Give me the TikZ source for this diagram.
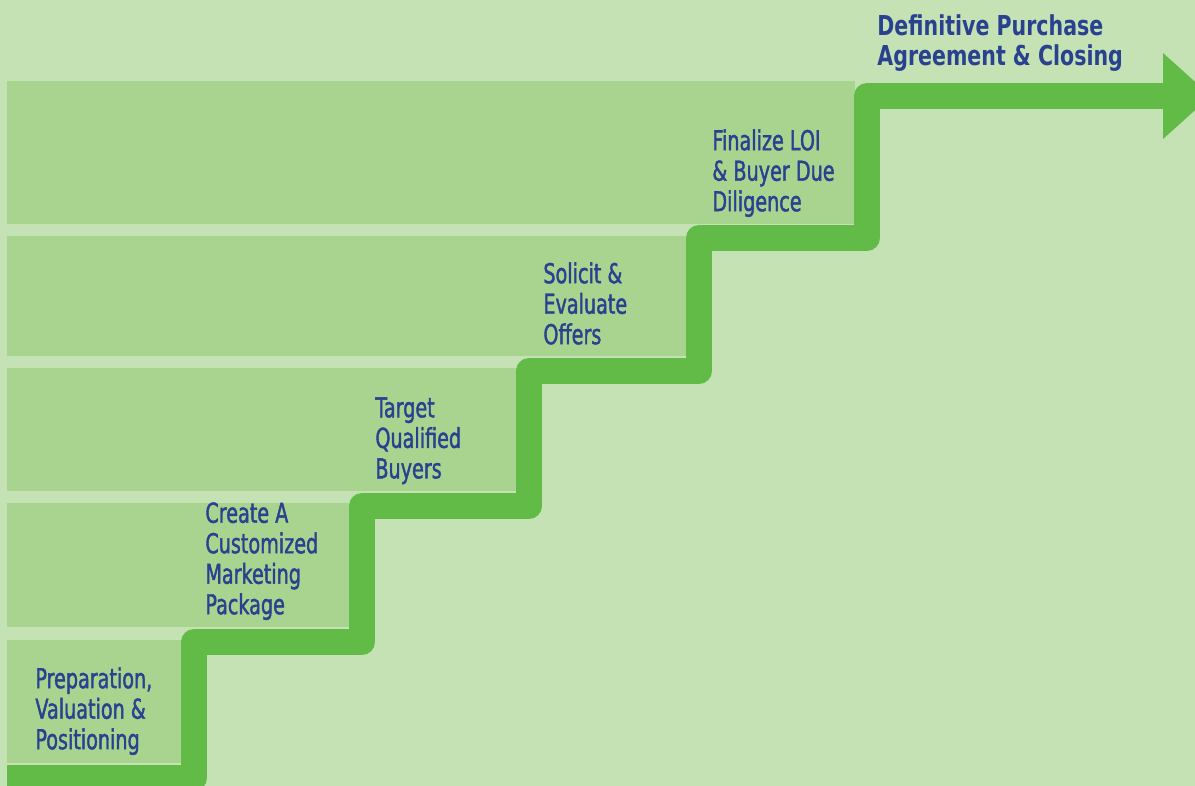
\documentclass[tikz,border=0pt]{standalone}
\usepackage{fontspec}
\usepackage{xcolor}
\usepackage{tikz}
\usetikzlibrary{arrows.meta}

\newfontfamily\lblfont[FakeStretch=0.70, FakeBold=1.4]{DejaVu Sans}
\newfontfamily\ttlfont[FakeStretch=0.75]{DejaVu Sans}

\definecolor{bgGreen}{RGB}{197,226,181}
\definecolor{bandGreen}{RGB}{168,212,144}
\definecolor{stairGreen}{RGB}{98,187,70}
\definecolor{txtBlue}{RGB}{41,65,143}

\begin{document}
\begin{tikzpicture}[
  x=0.5pt, y=-0.5pt,
  band/.style  = {fill=bandGreen},
  stair/.style = {draw=stairGreen, line width=13pt, line join=round,
                  -{Triangle[length=24pt, width=41.5pt]}},
  lbl/.style   = {anchor=north west, inner sep=0pt, align=left,
                  text=txtBlue, font=\lblfont\fontsize{13.7}{15.25}\selectfont},
  ttl/.style   = {lbl, font=\ttlfont\bfseries\fontsize{13.7}{15}\selectfont},
]

%% ── Canvas ──────────────────────────────────────────────────────────────────
\clip (0,0) rectangle (1195,786);
\fill[bgGreen] (0,0) rectangle (1195,786);

%% ── Step bands ──────────────────────────────────────────────────────────────
\fill[band] (7, 81) rectangle (855,224);
\fill[band] (7,236) rectangle (687,356);
\fill[band] (7,368) rectangle (517,491);
\fill[band] (7,503) rectangle (349,627);
\fill[band] (7,640) rectangle (182,763);

%% ── Staircase arrow ─────────────────────────────────────────────────────────
\draw[stair] (7,778) -- (194,778) -- (194,642) -- (362,642) -- (362,506)
  -- (529,506) -- (529,371) -- (699,371) -- (699,238) -- (867,238)
  -- (867,96) -- (1211,96);

%% ── Step labels ─────────────────────────────────────────────────────────────
\node[lbl] (prep)   at ( 35,667) {Preparation,\\Valuation \&\\Positioning};
\node[lbl] (create) at (205,502) {Create A\\Customized\\Marketing\\Package};
\node[lbl] (target) at (375,397) {Target\\Qualified\\Buyers};
\node[lbl] (solic)  at (543,262) {Solicit \&\\Evaluate\\Offers};
\node[lbl] (final)  at (712,129) {Finalize LOI\\\& Buyer Due\\Diligence};
\node[ttl] (close)  at (877, 14) {Definitive Purchase\\Agreement \& Closing};

\end{tikzpicture}
\end{document}
